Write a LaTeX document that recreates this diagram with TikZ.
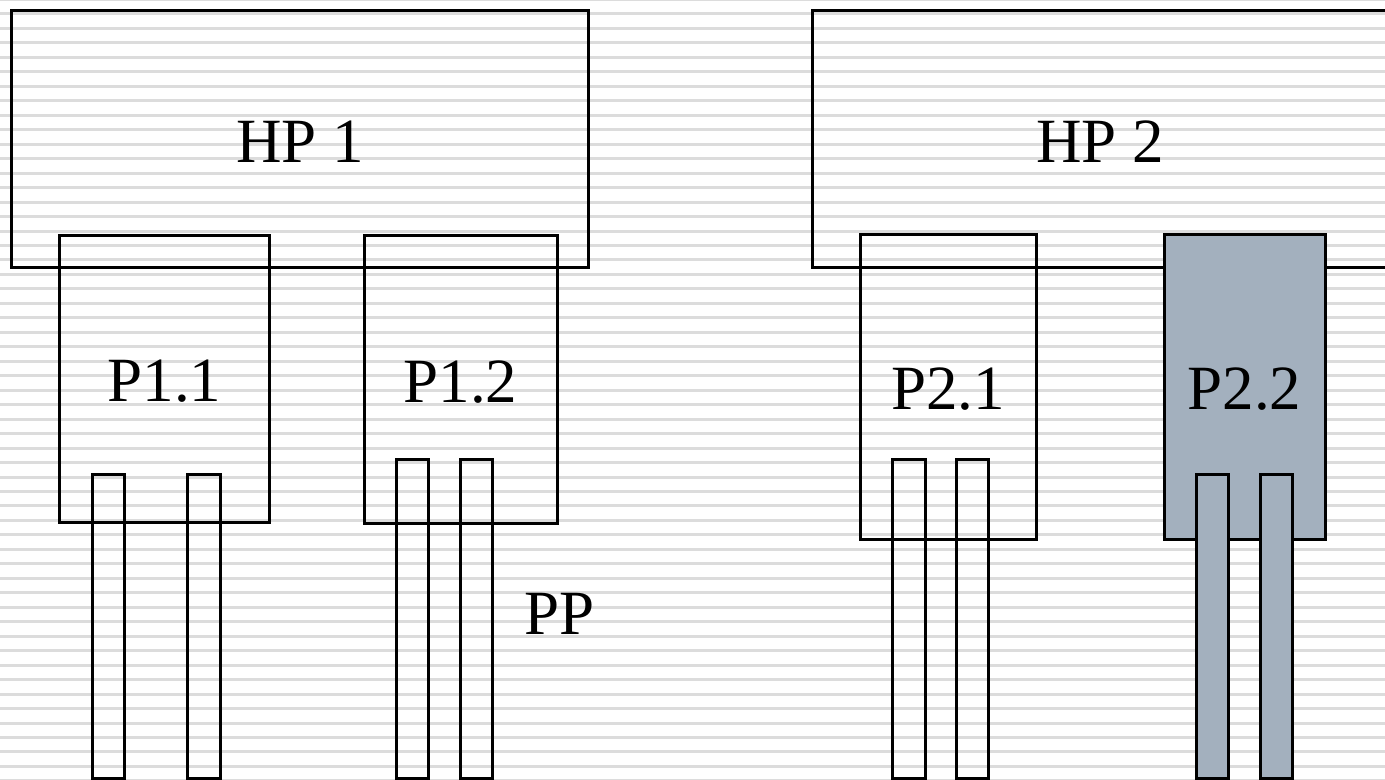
\documentclass[tikz,border=0pt]{standalone}
\usepackage{fontspec}
\setmainfont{Liberation Serif}
\definecolor{stripe}{HTML}{DCDCDC}
\definecolor{slate}{HTML}{A3B0BE}
\tikzset{
  box/.style={draw=black, line width=3bp, inner sep=0pt, rectangle,
    text height=46.8bp, text depth=0pt,
    font=\fontsize{63bp}{75bp}\selectfont},
  leg/.style={draw=black, line width=3bp, inner sep=0pt, rectangle, minimum width=32.5bp},
  hot/.style={fill=slate},
  lbl/.style={inner sep=0pt, font=\fontsize{63bp}{75bp}\selectfont}
}
\begin{document}
\begin{tikzpicture}[x=1bp, y=-1bp]
\useasboundingbox (0,0) rectangle (1385,779);
\clip (0,0) rectangle (1385,779);
\fill[white] (0,0) rectangle (1385,779);
\foreach \k in {0,...,54}{
  \fill[stripe] (0,{-0.47+\k*14.47-1.5}) rectangle (1385,{-0.47+\k*14.47+1.5});
}
% host boxes
\node[box, minimum width=576bp, minimum height=256bp] (hp1) at (300,139) {HP 1};
\node[box, minimum width=576bp, minimum height=256bp] (hp2) at (1100,139) {HP 2};
% package boxes
\node[box, minimum width=209bp, minimum height=287bp] (p11) at (164.5,378.5) {P1.1};
\node[box, minimum width=193bp, minimum height=288bp] (p12) at (460.5,379) {P1.2};
\node[box, minimum width=175.5bp, minimum height=305bp] (p21) at (948.25,386.5) {P2.1};
\node[box, hot, minimum width=161bp, minimum height=305bp] (p22) at (1244.5,386.5) {P2.2};
% legs
\node[leg, minimum height=304bp] (p11a) at (108.5,626) {};
\node[leg, minimum height=304bp] (p11b) at (204,626) {};
\node[leg, minimum height=319bp] (p12a) at (412.5,618.5) {};
\node[leg, minimum height=319bp] (p12b) at (476.5,618.5) {};
\node[leg, minimum height=319bp] (p21a) at (909,618.5) {};
\node[leg, minimum height=319bp] (p21b) at (972.5,618.5) {};
\node[leg, hot, minimum height=304bp] (p22a) at (1212.5,626) {};
\node[leg, hot, minimum height=304bp] (p22b) at (1276.5,626) {};
% label
\node[lbl] (pp) at (559.5,613.5) {PP};
\end{tikzpicture}
\end{document}
